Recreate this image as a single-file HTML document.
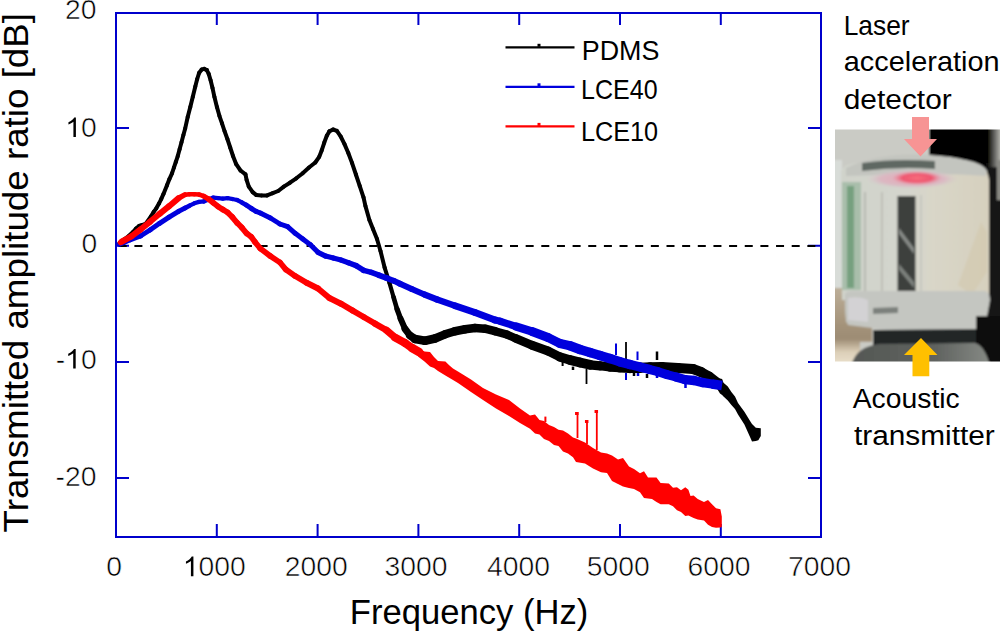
<!DOCTYPE html>
<html><head><meta charset="utf-8"><style>
html,body{margin:0;padding:0;background:#fff;width:1000px;height:631px;overflow:hidden}
svg{position:absolute;left:0;top:0}
text{font-family:"Liberation Sans",sans-serif}
</style></head><body>
<svg width="1000" height="631" viewBox="0 0 1000 631">
<g stroke="#0000cc" stroke-width="2" fill="none">
<path d="M116 12 V537 M115 537 H822 M821 538 V12 M822 13 H115"/>
<path d="M216.8 537 V524 M216.8 13 V25"/><path d="M317.6 537 V524 M317.6 13 V25"/><path d="M418.4 537 V524 M418.4 13 V25"/><path d="M519.2 537 V524 M519.2 13 V25"/><path d="M620.0 537 V524 M620.0 13 V25"/><path d="M720.8 537 V524 M720.8 13 V25"/><path d="M116 128 H129 M821 128 H808"/><path d="M116 245.8 H129 M821 245.8 H808"/><path d="M116 362 H129 M821 362 H808"/><path d="M116 478 H129 M821 478 H808"/></g>
<line x1="118.75" y1="246" x2="820" y2="246" stroke="#000" stroke-width="2" stroke-dasharray="8 7.65"/>
<g stroke="#000" stroke-linecap="round" fill="none"><line x1="119" y1="243.5" x2="121" y2="241.8" stroke-width="3.75"/><line x1="121" y1="241.8" x2="125" y2="238.8" stroke-width="4.00"/><line x1="125" y1="238.8" x2="129" y2="235.8" stroke-width="4.00"/><line x1="129" y1="235.8" x2="133" y2="232" stroke-width="4.00"/><line x1="133" y1="232" x2="136" y2="228.5" stroke-width="4.00"/><line x1="136" y1="228.5" x2="139" y2="226" stroke-width="4.00"/><line x1="139" y1="226" x2="142" y2="225" stroke-width="4.00"/><line x1="142" y1="225" x2="146" y2="223.5" stroke-width="4.00"/><line x1="146" y1="223.5" x2="150.8" y2="216.6" stroke-width="4.00"/><line x1="150.8" y1="216.6" x2="153.5" y2="212.2" stroke-width="4.00"/><line x1="153.5" y1="212.2" x2="156.3" y2="208.3" stroke-width="4.00"/><line x1="156.3" y1="208.3" x2="159.1" y2="203.3" stroke-width="4.00"/><line x1="159.1" y1="203.3" x2="161.3" y2="198.9" stroke-width="4.00"/><line x1="161.3" y1="198.9" x2="163.5" y2="193.9" stroke-width="4.00"/><line x1="163.5" y1="193.9" x2="166.9" y2="185.4" stroke-width="4.00"/><line x1="166.9" y1="185.4" x2="169.4" y2="179.1" stroke-width="4.00"/><line x1="169.4" y1="179.1" x2="172" y2="173.4" stroke-width="4.00"/><line x1="172" y1="173.4" x2="173.9" y2="167.7" stroke-width="4.00"/><line x1="173.9" y1="167.7" x2="175.8" y2="162" stroke-width="4.00"/><line x1="175.8" y1="162" x2="177.7" y2="156.3" stroke-width="4.00"/><line x1="177.7" y1="156.3" x2="179.6" y2="149.2" stroke-width="4.00"/><line x1="179.6" y1="149.2" x2="181.5" y2="142.2" stroke-width="4.00"/><line x1="181.5" y1="142.2" x2="183.4" y2="135.1" stroke-width="4.00"/><line x1="183.4" y1="135.1" x2="185.2" y2="128.4" stroke-width="4.00"/><line x1="185.2" y1="128.4" x2="187.7" y2="117" stroke-width="4.00"/><line x1="187.7" y1="117" x2="190.3" y2="106.9" stroke-width="4.00"/><line x1="190.3" y1="106.9" x2="192.8" y2="96.8" stroke-width="4.00"/><line x1="192.8" y1="96.8" x2="195.3" y2="86.6" stroke-width="4.00"/><line x1="195.3" y1="86.6" x2="197.2" y2="79" stroke-width="4.00"/><line x1="197.2" y1="79" x2="199.2" y2="72.7" stroke-width="4.00"/><line x1="199.2" y1="72.7" x2="201.7" y2="69.5" stroke-width="4.00"/><line x1="201.7" y1="69.5" x2="204.2" y2="68.9" stroke-width="4.00"/><line x1="204.2" y1="68.9" x2="206.8" y2="70.1" stroke-width="4.00"/><line x1="206.8" y1="70.1" x2="208.7" y2="73.9" stroke-width="4.00"/><line x1="208.7" y1="73.9" x2="210.6" y2="80.3" stroke-width="4.00"/><line x1="210.6" y1="80.3" x2="212.5" y2="87.9" stroke-width="4.00"/><line x1="212.5" y1="87.9" x2="214.4" y2="96.8" stroke-width="4.00"/><line x1="214.4" y1="96.8" x2="216.9" y2="106.9" stroke-width="4.00"/><line x1="216.9" y1="106.9" x2="219.4" y2="115.8" stroke-width="4.00"/><line x1="219.4" y1="115.8" x2="222" y2="123.4" stroke-width="4.00"/><line x1="222" y1="123.4" x2="224.5" y2="131" stroke-width="4.00"/><line x1="224.5" y1="131" x2="227.4" y2="139" stroke-width="4.00"/><line x1="227.4" y1="139" x2="230.2" y2="147.5" stroke-width="4.00"/><line x1="230.2" y1="147.5" x2="233" y2="156" stroke-width="4.00"/><line x1="233" y1="156" x2="236.2" y2="164.2" stroke-width="4.00"/><line x1="236.2" y1="164.2" x2="240.5" y2="170.5" stroke-width="4.00"/><line x1="240.5" y1="170.5" x2="245.5" y2="174.4" stroke-width="4.00"/><line x1="245.5" y1="174.4" x2="246.6" y2="179.9" stroke-width="4.00"/><line x1="246.6" y1="179.9" x2="248.8" y2="186.6" stroke-width="4.00"/><line x1="248.8" y1="186.6" x2="252.7" y2="192.1" stroke-width="4.00"/><line x1="252.7" y1="192.1" x2="256.1" y2="194.9" stroke-width="4.00"/><line x1="256.1" y1="194.9" x2="261.6" y2="195.4" stroke-width="4.00"/><line x1="261.6" y1="195.4" x2="267.1" y2="195.4" stroke-width="4.00"/><line x1="267.1" y1="195.4" x2="272.7" y2="193.2" stroke-width="4.00"/><line x1="272.7" y1="193.2" x2="278.2" y2="191" stroke-width="4.00"/><line x1="278.2" y1="191" x2="283.8" y2="186.6" stroke-width="4.00"/><line x1="283.8" y1="186.6" x2="290" y2="182.7" stroke-width="4.00"/><line x1="290" y1="182.7" x2="296.3" y2="178.3" stroke-width="4.00"/><line x1="296.3" y1="178.3" x2="302.7" y2="173.2" stroke-width="4.00"/><line x1="302.7" y1="173.2" x2="309" y2="167.5" stroke-width="4.00"/><line x1="309" y1="167.5" x2="315.3" y2="162.5" stroke-width="4.00"/><line x1="315.3" y1="162.5" x2="319.2" y2="156.8" stroke-width="4.00"/><line x1="319.2" y1="156.8" x2="321.7" y2="150.4" stroke-width="4.00"/><line x1="321.7" y1="150.4" x2="324.2" y2="142.8" stroke-width="4.00"/><line x1="324.2" y1="142.8" x2="326.8" y2="135.8" stroke-width="4.00"/><line x1="326.8" y1="135.8" x2="329.3" y2="131.4" stroke-width="4.00"/><line x1="329.3" y1="131.4" x2="333.1" y2="129.5" stroke-width="4.00"/><line x1="333.1" y1="129.5" x2="336.9" y2="130.8" stroke-width="4.00"/><line x1="336.9" y1="130.8" x2="340.7" y2="136.5" stroke-width="4.00"/><line x1="340.7" y1="136.5" x2="344.5" y2="144.1" stroke-width="4.00"/><line x1="344.5" y1="144.1" x2="348.3" y2="153" stroke-width="4.00"/><line x1="348.3" y1="153" x2="352.1" y2="163.1" stroke-width="4.00"/><line x1="352.1" y1="163.1" x2="355.9" y2="174.5" stroke-width="4.00"/><line x1="355.9" y1="174.5" x2="359.7" y2="185.9" stroke-width="4.00"/><line x1="359.7" y1="185.9" x2="363.5" y2="197.3" stroke-width="4.00"/><line x1="363.5" y1="197.3" x2="365.4" y2="205.9" stroke-width="4.00"/><line x1="365.4" y1="205.9" x2="369.4" y2="220" stroke-width="4.00"/><line x1="369.4" y1="220" x2="373" y2="229" stroke-width="4.00"/><line x1="373" y1="229" x2="377" y2="239" stroke-width="4.00"/><line x1="377" y1="239" x2="380.5" y2="251" stroke-width="4.00"/><line x1="380.5" y1="251" x2="384.6" y2="267.5" stroke-width="4.00"/><line x1="384.6" y1="267.5" x2="389.5" y2="283" stroke-width="4.10"/><line x1="389.5" y1="283" x2="393.5" y2="297" stroke-width="4.20"/><line x1="393.5" y1="297" x2="397" y2="309" stroke-width="4.60"/><line x1="397" y1="309" x2="400.5" y2="318.5" stroke-width="5.25"/><line x1="400.5" y1="318.5" x2="405" y2="328.8" stroke-width="6.00"/><line x1="405" y1="328.8" x2="410" y2="335.5" stroke-width="7.00"/><line x1="410" y1="335.5" x2="415" y2="339" stroke-width="8.00"/><line x1="415" y1="339" x2="425" y2="340.7" stroke-width="8.75"/><line x1="425" y1="340.7" x2="435" y2="338.5" stroke-width="8.75"/><line x1="435" y1="338.5" x2="445" y2="334.3" stroke-width="8.50"/><line x1="445" y1="334.3" x2="455" y2="331.2" stroke-width="8.50"/><line x1="455" y1="331.2" x2="465" y2="329.3" stroke-width="8.50"/><line x1="465" y1="329.3" x2="475" y2="328" stroke-width="8.50"/><line x1="475" y1="328" x2="485" y2="328.7" stroke-width="8.50"/><line x1="485" y1="328.7" x2="495" y2="331.2" stroke-width="8.50"/><line x1="495" y1="331.2" x2="506.8" y2="334.5" stroke-width="8.25"/><line x1="506.8" y1="334.5" x2="516" y2="338.5" stroke-width="8.25"/><line x1="516" y1="338.5" x2="532" y2="345.2" stroke-width="8.75"/><line x1="532" y1="345.2" x2="548" y2="351" stroke-width="9.00"/><line x1="548" y1="351" x2="560" y2="357" stroke-width="9.00"/><line x1="560" y1="357" x2="570" y2="360" stroke-width="9.25"/><line x1="570" y1="360" x2="580" y2="362.5" stroke-width="9.75"/><line x1="580" y1="362.5" x2="590" y2="364.8" stroke-width="9.75"/><line x1="590" y1="364.8" x2="600" y2="365.8" stroke-width="9.25"/><line x1="600" y1="365.8" x2="610" y2="367" stroke-width="9.00"/><line x1="610" y1="367" x2="620" y2="367.5" stroke-width="9.50"/><line x1="620" y1="367.5" x2="630" y2="368" stroke-width="10.25"/><line x1="630" y1="368" x2="640" y2="367.8" stroke-width="10.25"/><line x1="640" y1="367.8" x2="650" y2="367.3" stroke-width="10.00"/><line x1="650" y1="367.3" x2="662" y2="367" stroke-width="10.00"/><line x1="662" y1="367" x2="678" y2="368" stroke-width="10.00"/><line x1="678" y1="368" x2="693" y2="369" stroke-width="10.00"/><line x1="693" y1="369" x2="701" y2="372" stroke-width="10.00"/><line x1="701" y1="372" x2="709" y2="376.5" stroke-width="10.00"/><line x1="709" y1="376.5" x2="716" y2="382" stroke-width="10.00"/></g><polygon points="716,377.1 720,378.5 722.1,378.9 723.5,382.8 727.8,386.4 731.4,392.1 735,396.4 738,403 744.4,411.8 750.7,422 752,424 755.8,427.7 758.3,428 760.8,428.3 760.8,435.9 758.3,440.3 755.8,441 752,441.6 750.7,438.4 744.4,424.5 738,414.4 735,409 731.4,405 727.8,400.5 723.5,396.5 722.1,395 720,393.5 716,387" fill="#000"/><rect x="585.6" y="369" width="1.8" height="15" fill="#000"/><rect x="625.1" y="342" width="1.8" height="17" fill="#000"/><rect x="655.75" y="351.5" width="2.5" height="8.5" fill="#000"/><rect x="561.6" y="361.8" width="2" height="4.199999999999989" fill="#000"/><rect x="571.75" y="366.6" width="2.5" height="3.3999999999999773" fill="#000"/><rect x="645.75" y="374" width="2.5" height="4" fill="#000"/><rect x="632.75" y="373" width="2.5" height="3" fill="#000"/><g stroke="#0000dd" stroke-linecap="round" fill="none"><line x1="119.5" y1="244.3" x2="124" y2="242.5" stroke-width="4.75"/><line x1="124" y1="242.5" x2="130" y2="239.8" stroke-width="5.00"/><line x1="130" y1="239.8" x2="140.5" y2="236" stroke-width="5.00"/><line x1="140.5" y1="236" x2="150" y2="230" stroke-width="5.00"/><line x1="150" y1="230" x2="159.6" y2="223.3" stroke-width="5.00"/><line x1="159.6" y1="223.3" x2="169.1" y2="217.1" stroke-width="5.00"/><line x1="169.1" y1="217.1" x2="178.6" y2="211.4" stroke-width="5.00"/><line x1="178.6" y1="211.4" x2="184.8" y2="208.1" stroke-width="5.00"/><line x1="184.8" y1="208.1" x2="189.5" y2="205.7" stroke-width="4.65"/><line x1="189.5" y1="205.7" x2="194.3" y2="203.3" stroke-width="4.30"/><line x1="194.3" y1="203.3" x2="199" y2="201.9" stroke-width="4.30"/><line x1="199" y1="201.9" x2="203.8" y2="201.4" stroke-width="4.30"/><line x1="203.8" y1="201.4" x2="208.5" y2="199.5" stroke-width="4.30"/><line x1="208.5" y1="199.5" x2="213.3" y2="197.6" stroke-width="4.30"/><line x1="213.3" y1="197.6" x2="218.1" y2="198.1" stroke-width="4.30"/><line x1="218.1" y1="198.1" x2="222.8" y2="198.6" stroke-width="4.30"/><line x1="222.8" y1="198.6" x2="227.6" y2="198.1" stroke-width="4.30"/><line x1="227.6" y1="198.1" x2="232.3" y2="199" stroke-width="4.30"/><line x1="232.3" y1="199" x2="237.1" y2="200" stroke-width="4.30"/><line x1="237.1" y1="200" x2="241.8" y2="202.4" stroke-width="4.30"/><line x1="241.8" y1="202.4" x2="246.6" y2="205.2" stroke-width="4.65"/><line x1="246.6" y1="205.2" x2="251.4" y2="208.5" stroke-width="5.00"/><line x1="251.4" y1="208.5" x2="256.1" y2="211.4" stroke-width="5.00"/><line x1="256.1" y1="211.4" x2="260.3" y2="213" stroke-width="5.00"/><line x1="260.3" y1="213" x2="270.4" y2="218" stroke-width="5.00"/><line x1="270.4" y1="218" x2="280" y2="224" stroke-width="5.00"/><line x1="280" y1="224" x2="287.6" y2="226.7" stroke-width="5.00"/><line x1="287.6" y1="226.7" x2="295.2" y2="233.3" stroke-width="5.00"/><line x1="295.2" y1="233.3" x2="302.8" y2="239" stroke-width="5.00"/><line x1="302.8" y1="239" x2="310.4" y2="244.7" stroke-width="5.00"/><line x1="310.4" y1="244.7" x2="318" y2="252.3" stroke-width="5.10"/><line x1="318" y1="252.3" x2="325.6" y2="256.1" stroke-width="5.20"/><line x1="325.6" y1="256.1" x2="333.3" y2="258" stroke-width="5.20"/><line x1="333.3" y1="258" x2="340.9" y2="259.9" stroke-width="5.20"/><line x1="340.9" y1="259.9" x2="348.5" y2="262.8" stroke-width="5.30"/><line x1="348.5" y1="262.8" x2="356.1" y2="265.6" stroke-width="5.40"/><line x1="356.1" y1="265.6" x2="363.7" y2="270.4" stroke-width="5.45"/><line x1="363.7" y1="270.4" x2="371.3" y2="272.3" stroke-width="5.50"/><line x1="371.3" y1="272.3" x2="378.9" y2="275.2" stroke-width="5.60"/><line x1="378.9" y1="275.2" x2="386.5" y2="278" stroke-width="5.75"/><line x1="386.5" y1="278" x2="394.1" y2="280.9" stroke-width="5.90"/><line x1="394.1" y1="280.9" x2="400" y2="283.7" stroke-width="6.00"/><line x1="400" y1="283.7" x2="411.7" y2="289" stroke-width="6.00"/><line x1="411.7" y1="289" x2="424.4" y2="294.5" stroke-width="6.00"/><line x1="424.4" y1="294.5" x2="437.1" y2="299.5" stroke-width="6.25"/><line x1="437.1" y1="299.5" x2="455" y2="305.8" stroke-width="6.50"/><line x1="455" y1="305.8" x2="475" y2="312.5" stroke-width="6.75"/><line x1="475" y1="312.5" x2="495" y2="320" stroke-width="7.00"/><line x1="495" y1="320" x2="500" y2="321.2" stroke-width="7.00"/><line x1="500" y1="321.2" x2="516" y2="326.5" stroke-width="7.25"/><line x1="516" y1="326.5" x2="532" y2="331.5" stroke-width="8.25"/><line x1="532" y1="331.5" x2="548" y2="337.5" stroke-width="9.00"/><line x1="548" y1="337.5" x2="560" y2="343.5" stroke-width="9.00"/><line x1="560" y1="343.5" x2="570" y2="345.7" stroke-width="9.25"/><line x1="570" y1="345.7" x2="580" y2="349.5" stroke-width="9.50"/><line x1="580" y1="349.5" x2="590" y2="352.5" stroke-width="9.50"/><line x1="590" y1="352.5" x2="600" y2="355.5" stroke-width="9.50"/><line x1="600" y1="355.5" x2="610" y2="358.6" stroke-width="9.50"/><line x1="610" y1="358.6" x2="620" y2="361.8" stroke-width="9.50"/><line x1="620" y1="361.8" x2="630" y2="364.5" stroke-width="9.50"/><line x1="630" y1="364.5" x2="640" y2="367" stroke-width="9.50"/><line x1="640" y1="367" x2="649" y2="369.3" stroke-width="9.25"/><line x1="649" y1="369.3" x2="658" y2="371.7" stroke-width="9.00"/><line x1="658" y1="371.7" x2="667" y2="374.6" stroke-width="9.00"/><line x1="667" y1="374.6" x2="676" y2="377" stroke-width="9.00"/><line x1="676" y1="377" x2="685" y2="379.6" stroke-width="9.15"/><line x1="685" y1="379.6" x2="694" y2="380.5" stroke-width="9.30"/><line x1="694" y1="380.5" x2="703" y2="382.6" stroke-width="9.30"/><line x1="703" y1="382.6" x2="712" y2="384" stroke-width="9.30"/></g><line x1="712" y1="384" x2="722" y2="385.5" stroke-width="9.5" stroke="#0000dd"/><rect x="615.0" y="343.5" width="2" height="11.5" fill="#0000dd"/><rect x="636.5" y="351.5" width="2" height="8.5" fill="#0000dd"/><rect x="625.0" y="373" width="2" height="7" fill="#0000dd"/><rect x="636.75" y="373" width="2.5" height="3" fill="#0000dd"/><rect x="655.75" y="373" width="2.5" height="5" fill="#0000dd"/><rect x="684.25" y="384" width="2.5" height="4" fill="#0000dd"/><g stroke="#ff0000" stroke-linecap="round" fill="none"><line x1="120.5" y1="242.5" x2="122" y2="241.5" stroke-width="5.50"/><line x1="122" y1="241.5" x2="131" y2="236.6" stroke-width="6.00"/><line x1="131" y1="236.6" x2="140.5" y2="229.5" stroke-width="6.00"/><line x1="140.5" y1="229.5" x2="150" y2="221.8" stroke-width="6.00"/><line x1="150" y1="221.8" x2="159.6" y2="213.8" stroke-width="6.00"/><line x1="159.6" y1="213.8" x2="169.1" y2="206.2" stroke-width="6.00"/><line x1="169.1" y1="206.2" x2="178.6" y2="198.1" stroke-width="6.00"/><line x1="178.6" y1="198.1" x2="184.8" y2="194.7" stroke-width="5.30"/><line x1="184.8" y1="194.7" x2="189.5" y2="194.3" stroke-width="4.60"/><line x1="189.5" y1="194.3" x2="194.3" y2="194.3" stroke-width="4.60"/><line x1="194.3" y1="194.3" x2="199" y2="194.5" stroke-width="4.60"/><line x1="199" y1="194.5" x2="203.8" y2="196.2" stroke-width="4.60"/><line x1="203.8" y1="196.2" x2="208.5" y2="199" stroke-width="5.15"/><line x1="208.5" y1="199" x2="213.3" y2="202.8" stroke-width="5.70"/><line x1="213.3" y1="202.8" x2="218.1" y2="206.6" stroke-width="5.70"/><line x1="218.1" y1="206.6" x2="222.8" y2="209.5" stroke-width="5.70"/><line x1="222.8" y1="209.5" x2="227.6" y2="212.4" stroke-width="5.70"/><line x1="227.6" y1="212.4" x2="232.3" y2="217.1" stroke-width="5.70"/><line x1="232.3" y1="217.1" x2="237.1" y2="222.8" stroke-width="5.70"/><line x1="237.1" y1="222.8" x2="241.8" y2="227.6" stroke-width="5.70"/><line x1="241.8" y1="227.6" x2="246.6" y2="233.3" stroke-width="5.70"/><line x1="246.6" y1="233.3" x2="251.4" y2="237.1" stroke-width="5.70"/><line x1="251.4" y1="237.1" x2="255" y2="242" stroke-width="5.70"/><line x1="255" y1="242" x2="260.3" y2="248.5" stroke-width="5.70"/><line x1="260.3" y1="248.5" x2="270.4" y2="256.1" stroke-width="5.70"/><line x1="270.4" y1="256.1" x2="280" y2="262.5" stroke-width="5.70"/><line x1="280" y1="262.5" x2="285.7" y2="269.4" stroke-width="5.70"/><line x1="285.7" y1="269.4" x2="295.2" y2="276.1" stroke-width="5.70"/><line x1="295.2" y1="276.1" x2="306.6" y2="282.8" stroke-width="5.85"/><line x1="306.6" y1="282.8" x2="318" y2="288.5" stroke-width="6.00"/><line x1="318" y1="288.5" x2="329.4" y2="298" stroke-width="6.00"/><line x1="329.4" y1="298" x2="340.9" y2="303.7" stroke-width="6.00"/><line x1="340.9" y1="303.7" x2="352.3" y2="310.3" stroke-width="6.00"/><line x1="352.3" y1="310.3" x2="363.7" y2="317" stroke-width="6.00"/><line x1="363.7" y1="317" x2="375.1" y2="323.7" stroke-width="6.00"/><line x1="375.1" y1="323.7" x2="386.5" y2="330.3" stroke-width="6.50"/><line x1="386.5" y1="330.3" x2="395" y2="337.5" stroke-width="7.25"/><line x1="395" y1="337.5" x2="405" y2="343" stroke-width="7.75"/><line x1="405" y1="343" x2="412" y2="348" stroke-width="8.25"/><line x1="412" y1="348" x2="419" y2="352" stroke-width="8.50"/></g><polygon points="418,347.6 424.5,351.5 430,352 434,357 438,361 445.4,361.5 449.2,365.3 453,368.5 458,371.5 471,379.5 483,388 496,394.5 509,400 520,408.5 530,415.5 535,414.5 539.5,420 544,421 549,425 554,427 558.5,429.7 563,430.5 568,433.5 573,437.5 576,438.5 585,442.5 593,448 601,452.5 607,453.5 612,455.5 618,459.5 623,458 629,466.5 634,469 640,473.2 644,471.2 648,477.4 652,477.4 656.5,477.4 660.6,483 668.8,483.5 673,487.7 677,487.2 681,490.2 685.3,487.2 688.4,489.7 690.5,495.9 693.6,495.4 697.7,499 704,502 708,500 712,504.2 716,508.3 720.4,509.3 721.8,516.5 721.8,527 720.4,527.5 716,527.8 712,527 708,524.8 704,520.6 697.7,519.6 693.6,518 690.5,516.5 688.4,515.5 685.3,516 681,512 677,510.3 673,506.2 668.8,504.2 660.6,504.2 656.5,502 652,499 648,498.5 644,498 640,492.3 634,489 629,488 623,486.6 618,484 612,481 607,473 601,472.2 593,468.5 585,463.5 576,462 573,457.3 568,453.5 563,451.5 558.5,446 554,445 549,441 544,439 539.5,434.5 535,433.5 530,428.8 520,423 509,416 496,408.5 483,400 471,392 458,383 453,380 449.2,377.8 445.4,375.5 438,371 434,368 430,366.5 424.5,361.5 418,356.5" fill="#ff0000"/><rect x="576.6" y="412" width="1.8" height="26" fill="#ff0000"/><rect x="586.1" y="420" width="1.8" height="24" fill="#ff0000"/><rect x="595.9" y="410" width="1.8" height="40" fill="#ff0000"/><rect x="544.4" y="416.6" width="2" height="5.399999999999977" fill="#ff0000"/><rect x="575.05" y="412" width="3.5" height="3" fill="#ff0000"/><rect x="584.95" y="420" width="3.5" height="3" fill="#ff0000"/><rect x="594.55" y="410" width="3.5" height="3" fill="#ff0000"/>
<line x1="505.5" y1="47.3" x2="574.5" y2="47.3" stroke="#000" stroke-width="2.2"/><rect x="537.5" y="43.8" width="3" height="3" fill="#000"/><line x1="505.5" y1="86.8" x2="574.5" y2="86.8" stroke="#0000dd" stroke-width="2.2"/><rect x="537.5" y="83.3" width="3" height="3" fill="#0000dd"/><line x1="505.5" y1="126.4" x2="574.5" y2="126.4" stroke="#ff0000" stroke-width="2.2"/><rect x="537.5" y="122.9" width="3" height="3" fill="#ff0000"/>
<g fill="#000"><g transform="translate(64.98 19.3) scale(1.0300 1)" stroke="#fff" stroke-width="0.55"><text font-size="27.5">20</text></g>
<g transform="translate(65.35 137.1) scale(1.0300 1)" stroke="#fff" stroke-width="0.55"><path transform="translate(0.00 0) scale(0.01343 -0.01343)" d="M763 0L583 0L583 1147Q518 1085 412 1023Q306 961 223 930L223 1104Q373 1174 485 1271Q597 1368 643 1466L763 1466Z"/><text x="15.29" font-size="27.5">0</text></g>
<g transform="translate(81.53 252.6) scale(1.0300 1)" stroke="#fff" stroke-width="0.55"><text font-size="27.5">0</text></g>
<g transform="translate(55.70 368.6) scale(1.0300 1)" stroke="#fff" stroke-width="0.55"><text x="0.00" font-size="27.5">-</text><path transform="translate(9.16 0) scale(0.01343 -0.01343)" d="M763 0L583 0L583 1147Q518 1085 412 1023Q306 961 223 930L223 1104Q373 1174 485 1271Q597 1368 643 1466L763 1466Z"/><text x="24.45" font-size="27.5">0</text></g>
<g transform="translate(55.60 486.4) scale(1.0300 1)" stroke="#fff" stroke-width="0.55"><text font-size="27.5">-20</text></g>
<g transform="translate(106.28 576.3) scale(1.0300 1)" stroke="#fff" stroke-width="0.55"><text font-size="27.5">0</text></g>
<g transform="translate(182.86 576.3) scale(1.0300 1)" stroke="#fff" stroke-width="0.55"><path transform="translate(0.00 0) scale(0.01343 -0.01343)" d="M763 0L583 0L583 1147Q518 1085 412 1023Q306 961 223 930L223 1104Q373 1174 485 1271Q597 1368 643 1466L763 1466Z"/><text x="15.29" font-size="27.5">000</text></g>
<g transform="translate(284.79 576.3) scale(1.0300 1)" stroke="#fff" stroke-width="0.55"><text font-size="27.5">2000</text></g>
<g transform="translate(384.59 576.3) scale(1.0300 1)" stroke="#fff" stroke-width="0.55"><text font-size="27.5">3000</text></g>
<g transform="translate(486.99 576.3) scale(1.0300 1)" stroke="#fff" stroke-width="0.55"><text font-size="27.5">4000</text></g>
<g transform="translate(586.68 576.3) scale(1.0300 1)" stroke="#fff" stroke-width="0.55"><text font-size="27.5">5000</text></g>
<g transform="translate(687.59 576.3) scale(1.0300 1)" stroke="#fff" stroke-width="0.55"><text font-size="27.5">6000</text></g>
<g transform="translate(788.09 576.3) scale(1.0300 1)" stroke="#fff" stroke-width="0.55"><text font-size="27.5">7000</text></g>
<g transform="translate(581.72 60.4) scale(0.9880 1)"><text font-size="27.2">PDMS</text></g>
<g transform="translate(581.06 99.4) scale(0.9200 1)"><text font-size="27.2">LCE40</text></g>
<g transform="translate(581.04 141.2) scale(0.9275 1)"><text font-size="27.2">LCE10</text></g>
<g transform="translate(843.72 34.6) scale(0.9412 1)"><text font-size="28">Laser</text></g>
<g transform="translate(843.77 71.4) scale(1.0324 1)"><text font-size="28">acceleration</text></g>
<g transform="translate(843.73 109.4) scale(1.0680 1)"><text font-size="28">detector</text></g>
<g transform="translate(852.70 408.2) scale(1.0114 1)"><text font-size="28">Acoustic</text></g>
<g transform="translate(854.00 444.8) scale(1.0652 1)"><text font-size="28">transmitter</text></g>
<g transform="translate(349.83 624.1) scale(0.9890 1)"><text font-size="35">Frequency (Hz)</text></g>
<g transform="translate(27.7 532.44) rotate(-90) scale(1.0353 1)"><text font-size="35.5">Transmitted amplitude ratio [dB]</text></g></g>
<defs>
<clipPath id="pc"><rect x="835" y="129.5" width="165" height="232"/></clipPath>
<filter id="bl" x="-10%" y="-10%" width="120%" height="120%"><feGaussianBlur stdDeviation="1.3"/></filter>
<linearGradient id="frg" x1="0" y1="0" x2="1" y2="0"><stop offset="0" stop-color="#1a1a18"/><stop offset="1" stop-color="#c9c9c2"/></linearGradient>
<linearGradient id="tang" x1="0" y1="0" x2="0" y2="1"><stop offset="0" stop-color="#bcae98"/><stop offset="0.45" stop-color="#a4937a"/><stop offset="0.62" stop-color="#9d8c74"/><stop offset="0.78" stop-color="#dccfb8"/><stop offset="1" stop-color="#f0e8d6"/></linearGradient>
<linearGradient id="cubeg" x1="0" y1="0" x2="1" y2="0"><stop offset="0" stop-color="#d0d3cb"/><stop offset="0.45" stop-color="#d4d5cd"/><stop offset="0.62" stop-color="#d9d6c8"/><stop offset="1" stop-color="#d6d0be"/></linearGradient>
<radialGradient id="pinkg" cx="0.5" cy="0.5" r="0.5"><stop offset="0" stop-color="#e7aab8"/><stop offset="0.7" stop-color="#dbb8c2"/><stop offset="1" stop-color="#d5c9cc" stop-opacity="0"/></radialGradient>
<radialGradient id="pinkc" cx="0.5" cy="0.5" r="0.5"><stop offset="0" stop-color="#f86e7c"/><stop offset="0.6" stop-color="#ee5670"/><stop offset="1" stop-color="#e88a9c" stop-opacity="0"/></radialGradient>
<linearGradient id="ellg" x1="0" y1="0" x2="1" y2="0"><stop offset="0" stop-color="#555855"/><stop offset="0.6" stop-color="#5f625f"/><stop offset="1" stop-color="#868a85"/></linearGradient>
</defs>
<g clip-path="url(#pc)">
<g filter="url(#bl)">
<rect x="830" y="125" width="175" height="245" fill="#cacbc5"/>
<rect x="830" y="160" width="12" height="130" fill="#d8dcd8"/>
<path d="M929 125 L993 125 L993 180 L985 168 Q975 160 960 160 L929 160 Z" fill="#040404"/>
<rect x="987" y="163" width="15" height="200" fill="#171717"/>
<rect x="989" y="125" width="13" height="42" fill="url(#frg)"/>
<rect x="997" y="160" width="6" height="40" fill="#8a8a84"/>
<path d="M830 288 L845 288 L846 322 L872 324 L872 342 L860 342 L860 370 L830 370 Z" fill="url(#tang)"/>
<path d="M841 172 Q842 164 858 163 L975 165 Q988 167 989 180 L989 300 L842 300 Z" fill="url(#cubeg)"/>
<path d="M958 285 L981 222 L987 232 L987 272 L972 295 Z" fill="#d2c8ad" opacity="0.6"/>
<rect x="842" y="182" width="19" height="108" fill="#a9beab"/>
<rect x="847" y="186" width="7" height="102" fill="#76a07f"/>
<rect x="864" y="192" width="2" height="100" fill="#b6b9b1"/>
<rect x="881" y="192" width="2" height="100" fill="#bec0b8"/>
<rect x="920" y="195" width="2" height="100" fill="#c6c7c0"/>
<rect x="897.5" y="196" width="18" height="102" fill="#3d403d"/>
<path d="M899 228 L914 248 L914 254 L899 234 Z" fill="#868a86"/>
<path d="M899 264 L914 282 L914 288 L899 270 Z" fill="#7d817d"/>
<path d="M846 168 Q880 152 930 155 Q975 158 986 170 L986 176 Q940 172 846 176 Z" fill="#c3c5bf"/>
<path d="M862 163 Q895 158 935 161 L935 169 Q900 166 862 171 Z" fill="#5f6762"/>
<ellipse cx="912" cy="179" rx="46" ry="9.5" fill="url(#pinkg)"/>
<ellipse cx="917" cy="178" rx="25" ry="7" fill="url(#pinkc)"/>
<path d="M845 294 Q846 290 860 291 L985 291 Q990 292 990 300 L986 322 Q980 330 970 330 Q905 334 880 329 L848 325 Q845 320 845 305 Z" fill="#c4c6c1"/>
<path d="M848 298 Q860 296 868 300 L868 322 L848 320 Z" fill="#d3d2d4"/>
<path d="M873 308 L898 307 L898 313 L873 314 Z" fill="#7c807c"/>
<path d="M873 330 L976 329 L976 356 L873 356 Z" fill="#222527"/>
<path d="M976 316 L1005 316 L1005 366 L976 366 Z" fill="#0d0d0d"/>
<path d="M851 366 Q856 346 880 344 L975 343 Q985 346 990 366 Z" fill="url(#ellg)"/>
</g>
</g>
<polygon points="912,117 929,117 929,139 937,139 920.5,156.5 904,139 912,139" fill="#f79494"/>
<polygon points="921,338 937.5,355 929.3,355 929.3,376.3 912.5,376.3 912.5,355 904,355" fill="#ffc000"/>

</svg>
</body></html>
